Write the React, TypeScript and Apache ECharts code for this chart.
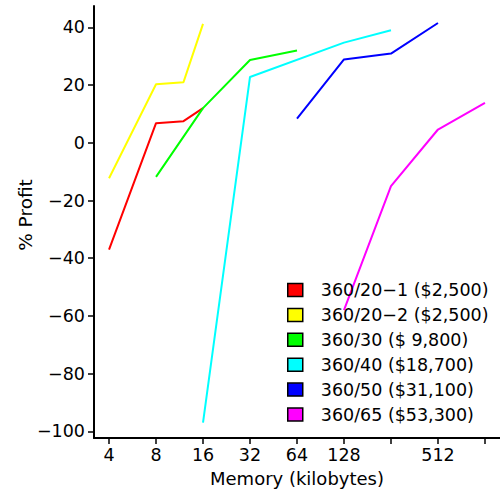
import React, { useEffect, useRef } from "react";
import * as echarts from "echarts";

// ---- data ----
const seriesNames = [
  "360/20\u22121 ($2,500)",
  "360/20\u22122 ($2,500)",
  "360/30 ($ 9,800)",
  "360/40 ($18,700)",
  "360/50 ($31,100)",
  "360/65 ($53,300)",
];
const seriesColors = ["#ff0000", "#ffff00", "#00ff00", "#00ffff", "#0000ff", "#ff00ff"];

const memory2001 = [4, 8, 12, 16];
const profit2001 = [-37, 6.8, 7.5, 12];
const memory2002 = [4, 8, 12, 16];
const profit2002 = [-12.3, 20.3, 21, 41.2];
const memory30 = [8, 16, 32, 64];
const profit30 = [-11.8, 12, 28.7, 32];
const memory40 = [16, 32, 128, 256];
const profit40 = [-97, 22.8, 34.7, 39];
const memory50 = [64, 128, 256, 512];
const profit50 = [8.4, 28.9, 30.9, 41.5];
const memory65 = [128, 256, 512, 1024];
const profit65 = [-58, -15, 4.6, 13.8];

const memories = [memory2001, memory2002, memory30, memory40, memory50, memory65];
const profits = [profit2001, profit2002, profit30, profit40, profit50, profit65];

const xTickValues = [4, 8, 16, 32, 64, 128, 256, 512, 1024];
const xTickLabels = ["4", "8", "16", "32", "64", "128", "", "512", ""];
const yTickValues = [-100, -80, -60, -40, -20, 0, 20, 40];
const yTickLabels = ["\u2212100", "\u221280", "\u221260", "\u221240", "\u221220", "0", "20", "40"];

const FONT = "DejaVu Sans";

export default function App() {
  const ref = useRef<HTMLDivElement>(null);

  useEffect(() => {
    if (!ref.current) return;
    const chart = echarts.init(ref.current, undefined, { renderer: "svg" });

    const xTickPos = xTickValues.map((v) => Math.log2(v));
    const xLabelPos = xTickValues
      .map((v, i) => ({ p: Math.log2(v), l: xTickLabels[i] }))
      .filter((d) => d.l !== "")
      .map((d) => d.p);

    const series = seriesNames.map((name, i) => ({
      name,
      type: "line" as const,
      data: memories[i].map((m, j) => [Math.log2(m), profits[i][j]]),
      showSymbol: false,
      symbol: "none",
      lineStyle: { color: seriesColors[i], width: 2 },
      itemStyle: { color: seriesColors[i] },
      z: 2,
    }));

    chart.setOption({
      animation: false,
      backgroundColor: "#ffffff",
      grid: { left: 94, top: 6, width: 408, height: 432, containLabel: false },
      xAxis: {
        type: "value",
        min: 1.68,
        max: 10.32,
        name: "Memory (kilobytes)",
        nameLocation: "middle",
        nameGap: 31,
        nameMoveOverlap: false,
        nameTextStyle: { fontFamily: FONT, fontSize: 18, color: "#000" },
        axisLine: { show: true, onZero: false, lineStyle: { color: "#000", width: 2 } },
        axisTick: {
          show: true,
          length: 6,
          customValues: xTickPos,
          lineStyle: { color: "#000", width: 1.5 },
        },
        axisLabel: {
          show: true,
          margin: 8,
          customValues: xLabelPos,
          fontFamily: FONT,
          fontSize: 17.5,
          color: "#000",
          formatter: (v: number) => {
            const idx = xTickValues.findIndex((t) => Math.abs(Math.log2(t) - v) < 1e-6);
            return idx >= 0 ? xTickLabels[idx] : "";
          },
        },
        splitLine: { show: false },
      },
      yAxis: {
        type: "value",
        min: -102.3,
        max: 47.4,
        name: "% Profit",
        nameLocation: "middle",
        nameRotate: 90,
        nameGap: 59,
        nameMoveOverlap: false,
        nameTextStyle: {
          fontFamily: FONT,
          fontSize: 18.5,
          color: "#000",
          padding: [0, 0, 0, 14],
        },
        axisLine: { show: true, onZero: false, lineStyle: { color: "#000", width: 2 } },
        axisTick: {
          show: true,
          length: 6,
          customValues: yTickValues,
          lineStyle: { color: "#000", width: 1.5 },
        },
        axisLabel: {
          show: true,
          margin: 9,
          customValues: yTickValues,
          fontFamily: FONT,
          fontSize: 17.5,
          color: "#000",
          formatter: (v: number) => {
            const idx = yTickValues.findIndex((t) => Math.abs(t - v) < 1e-6);
            return idx >= 0 ? yTickLabels[idx] : "";
          },
        },
        splitLine: { show: false },
      },
      legend: {
        show: true,
        orient: "vertical",
        left: 287,
        top: 281,
        padding: 0,
        itemWidth: 15,
        itemHeight: 13,
        itemGap: 6.9,
        icon: "rect",
        selectedMode: false,
        itemStyle: { borderColor: "#000", borderWidth: 1.5 },
        textStyle: {
          fontFamily: FONT,
          fontSize: 17.5,
          color: "#000",
          lineHeight: 18,
          padding: [0, 0, 0, 13],
        },
        data: seriesNames,
      },
      series,
    });

    return () => {
      chart.dispose();
    };
  }, []);

  return (
    <div
      ref={ref}
      style={{ position: "fixed", left: 0, top: 0, width: 500, height: 497, background: "#fff" }}
    />
  );
}
